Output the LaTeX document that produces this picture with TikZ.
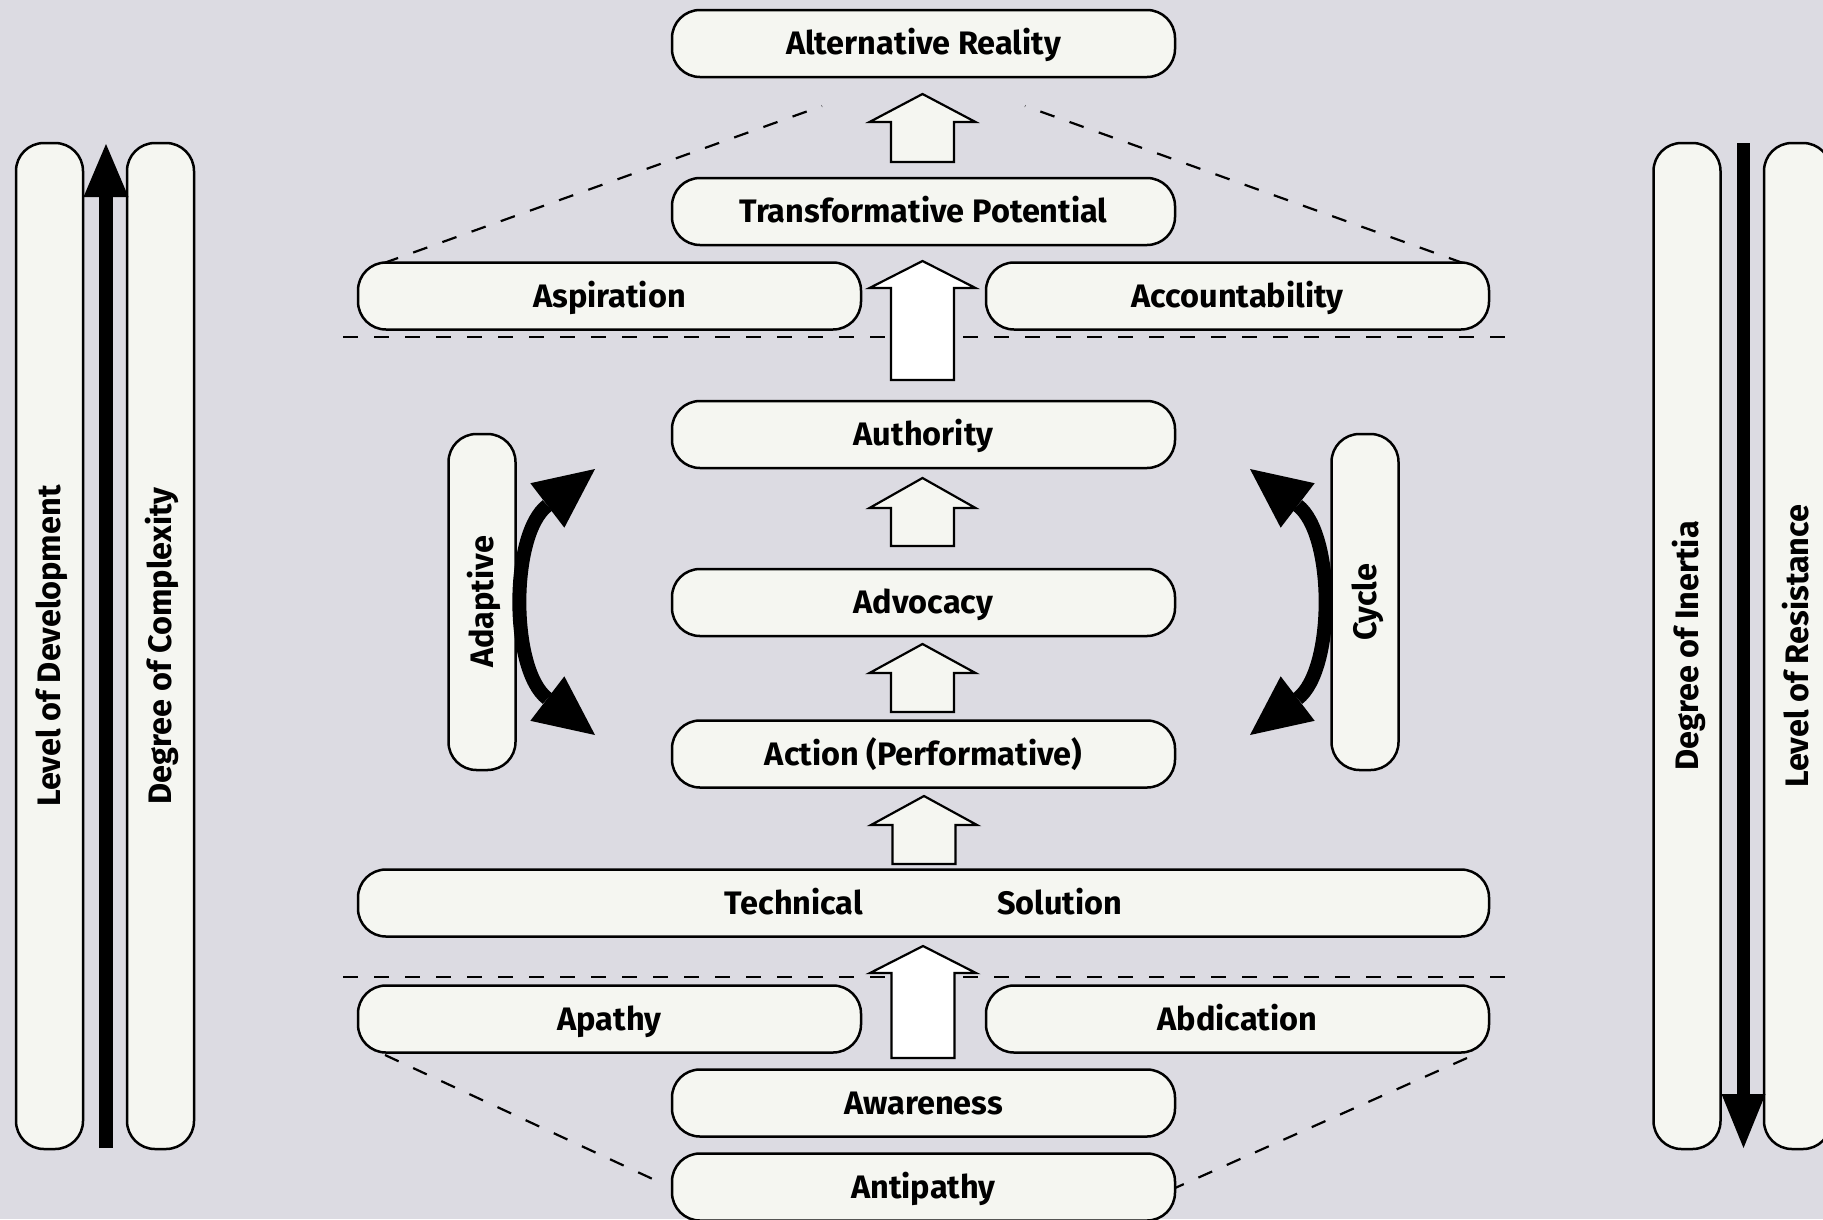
\documentclass[tikz,border=0pt]{standalone}
\usepackage{fontspec}
\setmainfont{Fira Sans}
\usetikzlibrary{arrows.meta}
\definecolor{bg}{RGB}{220,219,226}
\definecolor{boxfill}{RGB}{245,246,241}
\newcommand{\blockup}[5]{%
  \filldraw[blockarrow, fill=#5] ({#1-53},#3) -- (#1,#2) -- ({#1+53},#3) -- ({#1+31.5},#3)
    -- ({#1+31.5},#4) -- ({#1-31.5},#4) -- ({#1-31.5},#3) -- cycle;}
\begin{document}
\begin{tikzpicture}[x=1pt,y=-1pt,
  pill/.style={draw=black, line width=2.5pt, fill=boxfill, rounded corners=28pt,
    inner sep=0pt, font=\fontsize{32.5}{38}\selectfont\bfseries, minimum height=67pt,
    text height=25.7pt, text depth=3.3pt},
  dashline/.style={line width=2.2pt, dash pattern=on 15pt off 16pt},
  blockarrow/.style={draw=black, line width=2.2pt, line join=miter},
  curvearrow/.style={line width=14pt, {Triangle[length=60pt,width=56pt,line width=0pt]}-{Triangle[length=60pt,width=56pt,line width=0pt]}},
]
\fill[bg] (0,0) rectangle (1823,1219);
\useasboundingbox (0,0) rectangle (1823,1219);

% dashed guide lines (behind)
\coordinate (dtl1) at (384,263); \coordinate (dtl2) at (822,106);
\coordinate (dtr1) at (1463,263); \coordinate (dtr2) at (1025,106);
\coordinate (dh1a) at (343,337); \coordinate (dh1b) at (1506,337);
\coordinate (dh2a) at (343,977); \coordinate (dh2b) at (1506,977);
\coordinate (dbl1) at (385,1055); \coordinate (dbl2) at (657,1181);
\coordinate (dbr1) at (1467,1058); \coordinate (dbr2) at (1175,1188);
\draw[dashline] (dtl1) -- (dtl2);
\draw[dashline] (dtr1) -- (dtr2);
\draw[dashline] (dh1a) -- (dh1b);
\draw[dashline] (dh2a) -- (dh2b);
\draw[dashline] (dbl1) -- (dbl2);
\draw[dashline] (dbr1) -- (dbr2);

% central boxes
\node[pill, minimum width=503pt] (alt) at (923.5,43.5) {Alternative Reality};
\node[pill, minimum width=503pt] (transf) at (923.5,211.5) {Transformative Potential};
\node[pill, minimum width=503pt] (asp) at (609.5,296) {Aspiration};
\node[pill, minimum width=503pt] (acc) at (1237.5,296) {Accountability};
\node[pill, minimum width=503pt] (auth) at (923.5,434.5) {Authority};
\node[pill, minimum width=503pt] (advo) at (923.5,602.5) {Advocacy};
\node[pill, minimum width=503pt] (act) at (923.5,754) {Action (Performative)};
\node[pill, minimum width=1131pt] (tech) at (923.5,903) {Technical\hspace{134pt}Solution};
\node[pill, minimum width=503pt] (apa) at (609.5,1019) {Apathy};
\node[pill, minimum width=503pt] (abd) at (1237.5,1019) {Abdication};
\node[pill, minimum width=503pt] (awa) at (923.5,1103) {Awareness};
\node[pill, minimum width=503pt] (anti) at (923.5,1187) {Antipathy};

% side pills
\node[pill, rotate=90, minimum width=1006pt] (lvldev) at (49.5,646) {Level of Development};
\node[pill, rotate=90, minimum width=1006pt] (degcomp) at (160.5,646) {Degree of Complexity};
\node[pill, rotate=90, minimum width=1006pt] (deginert) at (1687,646) {Degree of Inertia};
\node[pill, rotate=90, minimum width=1006pt] (lvlres) at (1797.5,646) {Level of Resistance};
\node[pill, rotate=90, minimum width=336pt] (adap) at (482,602) {Adaptive};
\node[pill, rotate=90, minimum width=336pt] (cyc) at (1365,602) {Cycle};

% block arrows
\blockup{922.5}{94}{122}{162}{boxfill}
\blockup{922.5}{261}{288}{380}{white}
\blockup{922.5}{478}{508}{546}{boxfill}
\blockup{922.5}{644}{673}{712}{boxfill}
\blockup{924}{796}{825}{864}{boxfill}
\blockup{923}{946}{973}{1058}{white}

% side vertical arrows
\coordinate (la1) at (106,1148); \coordinate (la2) at (106,144);
\coordinate (ra1) at (1743.5,143); \coordinate (ra2) at (1743.5,1148);
\draw[line width=14pt, -{Triangle[length=53pt,width=45pt,line width=0pt]}] (la1) -- (la2);
\draw[line width=13pt, -{Triangle[length=54pt,width=44pt,line width=0pt]}] (ra1) -- (ra2);

% curved double arrows
\coordinate (ca1) at (595,469); \coordinate (ca2) at (595,735);
\coordinate (cc1) at (1250,469); \coordinate (cc2) at (1250,735);
\draw[curvearrow] (ca1) .. controls (510,534) and (510,670) .. (ca2);
\draw[curvearrow] (cc1) .. controls (1335,534) and (1335,670) .. (cc2);
\end{tikzpicture}
\end{document}
